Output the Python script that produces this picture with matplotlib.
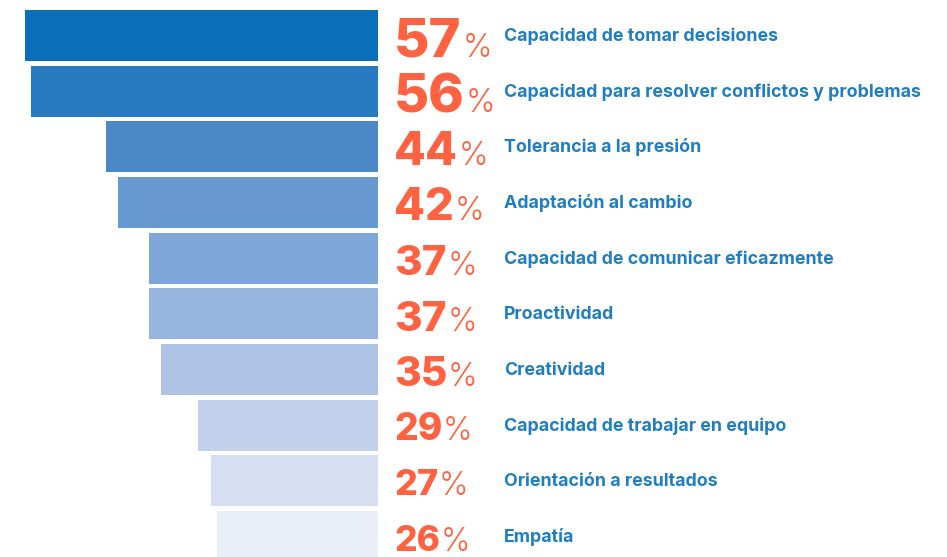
import matplotlib.pyplot as plt

# Competencias más valoradas (% de menciones)
competencias = [
    "Capacidad de tomar decisiones",
    "Capacidad para resolver conflictos y problemas",
    "Tolerancia a la presión",
    "Adaptación al cambio",
    "Capacidad de comunicar eficazmente",
    "Proactividad",
    "Creatividad",
    "Capacidad de trabajar en equipo",
    "Orientación a resultados",
    "Empatía",
]
porcentajes = [57, 56, 44, 42, 37, 37, 35, 29, 27, 26]
colores = ["#0A6EB8", "#287AC1", "#4A88C7", "#6898D0", "#7FA6D8",
           "#98B5DF", "#AEC3E6", "#C1D1EC", "#D6DFF2", "#E9EEF9"]

naranja = "#FF6241"
azul = "#1F7EC0"
fuente = "Inter"

W, H = 947, 557
PX_X = 6.19      # píxeles por punto porcentual
PX_Y = 55.67     # píxeles entre filas
Y0 = 35.5        # centro de la primera barra, en píxeles

fig = plt.figure(figsize=(W / 100, H / 100), dpi=100)
ax = fig.add_axes([0, 0, 1, 1])

pos = list(range(len(porcentajes)))
# barras crecen hacia la izquierda desde x=0
ax.barh(pos, [-p for p in porcentajes], height=0.92, color=colores, linewidth=0)

def pt(px, cap=0.727):
    # tamaño en puntos para una altura de mayúscula dada en píxeles
    return px / cap * 0.72

for i, (p, nombre) in enumerate(zip(porcentajes, competencias)):
    alto = 14 + 0.45 * p          # el número crece con el valor
    base = i + (alto / 2 + 1.5) / PX_Y
    num = ax.text(16 / PX_X, base, str(p), color=naranja, fontsize=pt(alto),
                  fontweight=800, family=fuente, va="baseline", ha="left")
    ax.annotate("%", xy=(1, base), xycoords=(num, "data"),
                xytext=(0.5, 0), textcoords="offset points",
                color=naranja, fontsize=pt(23), fontweight=300,
                family=fuente, va="baseline", ha="left")
    ax.text(126 / PX_X, i + 5.5 / PX_Y, nombre, color=azul, fontsize=12.8,
            fontweight="bold", family=fuente, va="baseline", ha="left")

ax.set_xlim(-378 / PX_X, (W - 378) / PX_X)
ax.set_ylim((H - Y0) / PX_Y, -Y0 / PX_Y)
ax.axis("off")

plt.savefig("out.png", dpi=100)
